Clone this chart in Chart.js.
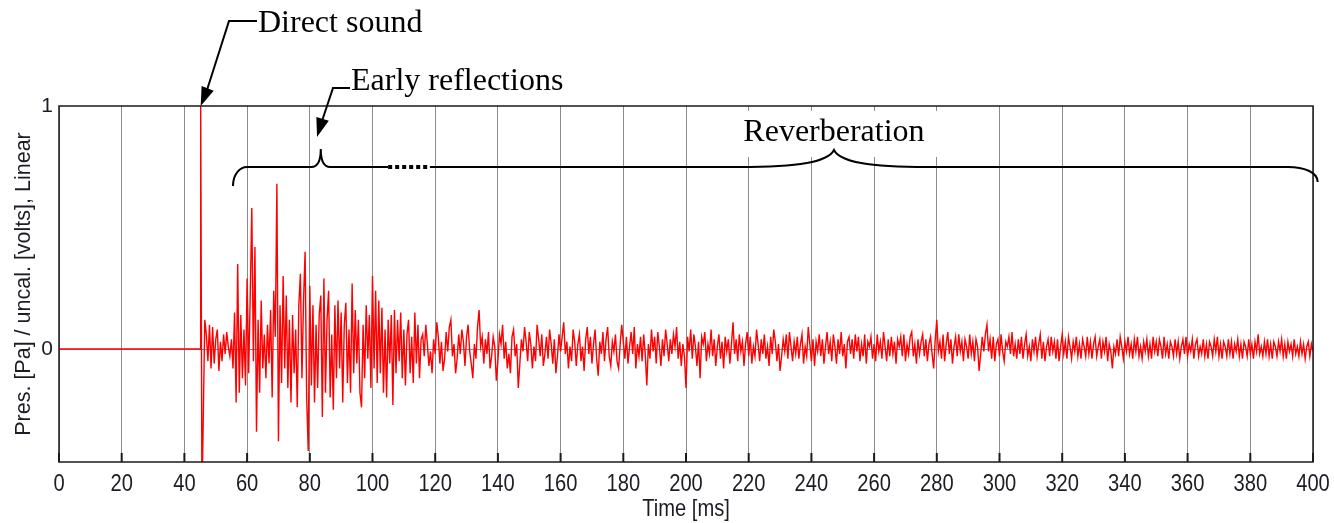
<!DOCTYPE html>
<html>
<head>
<meta charset="utf-8">
<script src="https://cdn.jsdelivr.net/npm/chart.js@4.4.1/dist/chart.umd.min.js"></script>
<style>
  html, body { margin: 0; padding: 0; background: #fff; }
  canvas { display: block; }
</style>
</head>
<body>
<canvas id="ir-chart" width="1334" height="523"></canvas>
<script>
// time axis (ms) and y ticks
const xTickStep = 20;
const xRange = [0, 400];
const yTickValues = [0, 1];
const yRange = [-0.465, 1];

// silence + direct sound
const headTimes = [0, 45.0, 45.2, 45.6];
const headValues = [0, 0, 1.0, -0.62];

// impulse response after the direct sound, one value every 0.5 ms from 46 ms
const tailStartMs = 46;
const sampleMs = 0.5;
const tailValues = [
  // 46 - 55.5
  -0.30, 0.12, 0.06, -0.05, 0.10, -0.08, 0.09, -0.06, 0.04, 0.08, -0.09, 0.03, -0.05, 0.06, -0.02, 0.07, 0.01, -0.03, 0.04, -0.08,
  // 56 - 65.5
  0.15, -0.22, 0.35, -0.18, 0.14, -0.12, 0.08, -0.15, 0.29, -0.10, 0.22, 0.58, -0.05, 0.42, -0.34, 0.12, -0.18, 0.20, -0.08, 0.06,
  // 66 - 75.5
  -0.12, 0.10, -0.06, 0.16, -0.20, 0.24, 0.05, 0.68, -0.38, 0.18, -0.14, 0.30, -0.08, 0.22, -0.16, 0.12, -0.22, 0.14, -0.10, 0.08,
  // 76 - 85.5
  -0.24, 0.18, 0.31, -0.12, 0.20, 0.40, -0.20, -0.42, 0.26, -0.15, 0.18, -0.22, 0.10, -0.16, 0.14, 0.22, -0.28, 0.29, -0.18, 0.12,
  // 86 - 95.5
  0.24, -0.20, 0.06, -0.25, 0.18, -0.12, 0.20, -0.08, 0.15, -0.22, 0.10, 0.19, -0.14, 0.08, -0.18, 0.27, -0.10, 0.16, -0.06, 0.12,
  // 96 - 105.5
  -0.18, -0.24, 0.10, -0.12, 0.18, -0.04, 0.14, -0.16, 0.30, -0.08, 0.24, -0.14, 0.20, -0.10, 0.17, -0.18, 0.08, -0.20, 0.12, -0.06,
  // 106 - 115.5
  0.14, -0.23, 0.16, -0.10, 0.12, -0.05, 0.15, -0.12, 0.08, -0.15, 0.06, 0.12, -0.10, 0.05, -0.14, 0.15, -0.06, 0.10, -0.12, 0.04,
  // 116 - 125.5
  0.06, -0.03, 0.10, 0.02, -0.07, -0.01, -0.10, 0.04, -0.02, 0.11, 0.05, -0.06, 0.03, -0.09, -0.04, 0.07, -0.01, 0.09, 0.12, -0.03,
  // 126 - 135.5
  0.02, -0.10, -0.04, 0.06, -0.02, 0.08, 0.03, -0.07, 0.05, 0.10, -0.01, -0.06, -0.12, 0.02, -0.04, 0.09, 0.16, 0.01, 0.05, -0.06,
  // 136 - 145.5
  0.04, -0.02, 0.07, -0.08, -0.03, 0.05, 0.01, -0.13, -0.05, 0.06, 0.02, 0.10, -0.04, 0.03, -0.08, -0.02, -0.10, 0.05, 0.08, -0.03,
  // 146 - 155.5
  0.02, -0.16, -0.06, 0.04, -0.01, 0.09, 0.03, -0.05, 0.07, 0.02, -0.08, 0.01, -0.05, 0.10, 0.04, -0.03, 0.06, -0.07, -0.02, 0.05,
  // 156 - 165.5
  -0.04, 0.08, 0.02, -0.06, 0.04, -0.10, -0.03, 0.06, -0.01, 0.05, 0.11, -0.02, 0.03, -0.08, 0.01, -0.05, 0.08, 0.03, -0.07, 0.02,
  // 166 - 175.5
  0.06, -0.05, 0.01, -0.09, 0.04, 0.09, -0.02, 0.05, -0.06, 0.02, 0.08, -0.04, -0.11, 0.03, -0.02, 0.07, -0.05, 0.04, 0.09, -0.03,
  // 176 - 185.5
  -0.07, 0.03, -0.01, 0.06, -0.05, -0.08, 0.02, 0.10, 0.03, -0.04, 0.05, -0.06, 0.01, 0.07, -0.02, 0.09, -0.08, 0.02, -0.03, 0.05,
  // 186 - 195.5
  -0.05, 0.06, -0.02, -0.15, 0.02, -0.04, 0.08, -0.01, 0.05, -0.06, 0.07, 0.01, -0.07, 0.04, -0.03, 0.08, 0.02, -0.05, 0.04, -0.02,
  // 196 - 205.5
  0.06, 0.01, 0.09, -0.04, 0.03, -0.07, 0.02, -0.03, -0.16, 0.05, -0.01, 0.08, -0.04, 0.06, 0.01, -0.07, 0.03, -0.12, 0.05, 0.02,
  // 206 - 215.5
  0.07, -0.05, 0.02, -0.02, 0.08, -0.03, 0.04, -0.07, 0.01, 0.06, -0.04, 0.03, -0.08, 0.05, -0.01, 0.04, -0.06, 0.02, 0.11, -0.02,
  // 216 - 225.5
  0.04, -0.05, 0.06, -0.01, 0.03, -0.07, 0.02, 0.07, -0.03, 0.05, -0.06, 0.01, -0.03, 0.08, 0.02, -0.05, 0.04, -0.02, 0.06, -0.04,
  // 226 - 235.5
  0.01, -0.07, 0.05, -0.02, 0.08, 0.03, -0.05, 0.02, -0.09, -0.03, 0.04, -0.01, 0.06, -0.04, 0.07, 0.01, -0.05, 0.03, -0.02, 0.05,
  // 236 - 245.5
  -0.04, 0.02, 0.06, -0.06, 0.01, -0.03, 0.09, 0.02, -0.05, 0.04, -0.07, 0.03, -0.01, 0.06, -0.03, 0.04, -0.06, 0.01, 0.07, -0.02,
  // 246 - 255.5
  0.03, -0.05, 0.06, 0.01, -0.06, 0.04, -0.02, 0.07, -0.03, 0.02, -0.08, 0.03, 0.05, -0.02, 0.04, -0.04, 0.06, -0.01, 0.05, -0.05,
  // 256 - 265.5
  0.02, -0.03, 0.06, -0.06, 0.03, 0.01, 0.05, -0.04, 0.02, -0.05, 0.06, -0.01, 0.03, -0.04, 0.07, 0.01, -0.05, 0.04, -0.03, 0.05,
  // 266 - 275.5
  -0.02, 0.03, -0.06, 0.04, 0.01, 0.05, -0.03, 0.06, -0.05, 0.02, -0.02, 0.05, 0.07, -0.03, 0.02, -0.06, 0.04, -0.02, 0.03, 0.06,
  // 276 - 285.5
  -0.03, 0.04, -0.05, 0.02, 0.05, -0.02, -0.08, 0.04, 0.12, -0.01, 0.03, -0.04, 0.06, -0.05, 0.02, 0.07, -0.02, 0.04, -0.06, 0.01,
  // 286 - 295.5
  0.05, -0.03, 0.06, -0.01, 0.03, -0.05, 0.04, 0.01, -0.04, 0.06, -0.02, 0.03, -0.05, 0.04, 0.01, -0.09, -0.02, 0.05, -0.01, 0.06,
  // 296 - 305.5
  0.10, -0.01, 0.04, -0.04, 0.05, -0.05, 0.02, 0.04, -0.03, 0.06, -0.01, -0.05, 0.03, 0.01, 0.05, -0.02, 0.07, -0.03, 0.02, -0.04,
  // 306 - 315.5
  0.04, -0.02, 0.05, -0.04, 0.02, 0.06, -0.03, 0.01, -0.05, 0.04, -0.01, 0.05, -0.03, 0.02, 0.06, -0.04, 0.03, -0.05, 0.01, 0.04,
  // 316 - 325.5
  -0.03, 0.05, -0.01, 0.03, -0.04, 0.04, -0.05, 0.01, 0.06, -0.02, 0.03, -0.04, 0.05, 0.01, -0.04, 0.03, -0.01, 0.05, -0.03, 0.02,
  // 326 - 335.5
  -0.04, 0.04, 0.01, -0.03, 0.05, -0.02, 0.03, -0.04, 0.02, 0.05, -0.03, 0.01, 0.04, -0.04, 0.03, -0.01, 0.05, -0.05, 0.02, -0.01,
  // 336 - 345.5
  -0.08, 0.01, -0.02, 0.04, -0.03, 0.05, 0.01, -0.04, 0.03, -0.01, 0.05, -0.02, 0.02, -0.04, 0.04, -0.01, 0.05, -0.03, 0.01, -0.04,
  // 346 - 355.5
  0.03, -0.01, 0.04, -0.03, 0.02, -0.04, 0.05, -0.01, 0.03, -0.03, 0.04, 0.01, -0.04, 0.05, -0.02, 0.02, -0.04, 0.03, 0.01, -0.03,
  // 356 - 365.5
  0.04, -0.02, 0.03, -0.04, 0.01, 0.04, -0.02, 0.05, -0.03, 0.02, -0.01, 0.04, -0.04, 0.02, 0.04, -0.03, 0.01, -0.02, 0.04, -0.03,
  // 366 - 375.5
  0.02, -0.04, 0.03, 0.01, -0.03, 0.04, -0.01, 0.05, -0.03, 0.02, -0.04, 0.03, 0.01, -0.03, 0.04, -0.02, 0.03, -0.04, 0.02, -0.01,
  // 376 - 385.5
  0.04, -0.03, 0.02, -0.04, 0.03, 0.01, -0.03, 0.04, -0.02, 0.02, -0.04, 0.03, -0.01, 0.06, -0.02, 0.01, -0.03, 0.03, -0.02, 0.04,
  // 386 - 395.5
  -0.03, 0.02, -0.04, 0.03, 0.01, -0.03, 0.03, -0.01, 0.04, -0.03, 0.02, -0.04, 0.03, -0.01, 0.02, -0.03, 0.04, -0.02, 0.01, -0.03,
  // 396 - 400
  0.03, -0.02, 0.02, -0.04, 0.01, 0.03, -0.03, 0.02, -0.01,
];

const points = headTimes.map((t, i) => ({ x: t, y: headValues[i] }));
tailValues.forEach((v, i) => points.push({ x: tailStartMs + i * sampleMs, y: v }));

const serif = '32px "Liberation Serif", "Times New Roman", serif';
const sans = '"Liberation Sans", Arial, sans-serif';
const textColor = '#1c1c24';

// text drawn squeezed horizontally, like the narrow axis font of the original
const narrowText = (ctx, text, x, y, squeeze) => {
  ctx.save();
  ctx.translate(x, y);
  ctx.scale(squeeze, 1);
  ctx.fillText(text, 0, 0);
  ctx.restore();
};

// frame, x labels, inner tick marks and the text annotations
const annotations = {
  id: 'annotations',
  afterDraw(chart) {
    const { ctx, chartArea: a, scales } = chart;
    const x = (ms) => scales.x.getPixelForValue(ms);
    ctx.save();

    // frame
    ctx.strokeStyle = '#1a1a1a';
    ctx.lineWidth = 1.5;
    ctx.strokeRect(a.left, a.top, a.right - a.left, a.bottom - a.top);

    // tick marks inside the bottom edge + labels
    ctx.lineWidth = 2;
    ctx.fillStyle = textColor;
    ctx.font = '24px ' + sans;
    ctx.textAlign = 'center';
    ctx.textBaseline = 'alphabetic';
    for (let v = xRange[0]; v <= xRange[1]; v += xTickStep) {
      ctx.beginPath();
      ctx.moveTo(x(v), a.bottom);
      ctx.lineTo(x(v), a.bottom - 9);
      ctx.stroke();
      narrowText(ctx, String(v), x(v), 491, 0.84);
    }
    narrowText(ctx, 'Time [ms]', (a.left + a.right) / 2, 516, 0.84);

    // white box behind "Reverberation"
    ctx.fillStyle = '#fff';
    ctx.fillRect(x(217.5), a.top + 5, x(283.5) - x(217.5), 46);

    ctx.fillStyle = '#000';
    ctx.strokeStyle = '#000';
    ctx.font = serif;
    ctx.textAlign = 'left';
    ctx.fillText('Direct sound', 258, 32);
    ctx.fillText('Early reflections', 351, 90);
    ctx.textAlign = 'center';
    ctx.fillText('Reverberation', x(247.2), 141);

    const arrow = (pts, tip) => {
      ctx.lineWidth = 2;
      ctx.beginPath();
      ctx.moveTo(pts[0][0], pts[0][1]);
      pts.slice(1).forEach((p) => ctx.lineTo(p[0], p[1]));
      ctx.stroke();
      const last = pts[pts.length - 1];
      const ang = Math.atan2(tip[1] - last[1], tip[0] - last[0]);
      const len = 19, half = 6.5;
      const bx = tip[0] - len * Math.cos(ang), by = tip[1] - len * Math.sin(ang);
      ctx.beginPath();
      ctx.moveTo(tip[0], tip[1]);
      ctx.lineTo(bx + half * Math.sin(ang), by - half * Math.cos(ang));
      ctx.lineTo(bx - half * Math.sin(ang), by + half * Math.cos(ang));
      ctx.closePath();
      ctx.fill();
    };
    arrow([[257, 21], [229, 21], [207, 90]], [x(45.2), a.top]);
    arrow([[350, 88], [333, 88], [321, 124]], [x(82.3), 137]);

    // braces
    const yb = 167;
    ctx.lineWidth = 2;
    ctx.beginPath();
    ctx.moveTo(x(55.5), 186);
    ctx.bezierCurveTo(x(55.5), 175, x(57.5), yb, x(60), yb);
    ctx.lineTo(x(80.5), yb);
    ctx.quadraticCurveTo(x(83.5), yb, x(83.5), 149);
    ctx.quadraticCurveTo(x(83.5), yb, x(86.5), yb);
    ctx.lineTo(x(105), yb);
    ctx.stroke();

    ctx.lineWidth = 4;
    ctx.setLineDash([4, 3]);
    ctx.beginPath();
    ctx.moveTo(x(105), yb);
    ctx.lineTo(x(118.3), yb);
    ctx.stroke();
    ctx.setLineDash([]);

    ctx.lineWidth = 2;
    ctx.beginPath();
    ctx.moveTo(x(118.3), yb);
    ctx.lineTo(x(217), yb);
    ctx.bezierCurveTo(x(236), yb, x(245.3), 162, x(247.2), 150);
    ctx.bezierCurveTo(x(249.1), 162, x(258.5), yb, x(277), yb);
    ctx.lineTo(x(392), yb);
    ctx.bezierCurveTo(x(397), yb, x(401.5), 172, x(401.5), 182);
    ctx.stroke();

    ctx.restore();
  },
};

new Chart(document.getElementById('ir-chart'), {
  type: 'line',
  data: {
    datasets: [
      {
        data: points,
        borderColor: '#ff0000',
        borderWidth: 1.4,
        pointRadius: 0,
        tension: 0,
      },
    ],
  },
  options: {
    responsive: false,
    animation: false,
    devicePixelRatio: 1,
    layout: { padding: { left: 0, top: 106, right: 21, bottom: 0 } },
    plugins: { legend: { display: false }, tooltip: { enabled: false } },
    scales: {
      x: {
        type: 'linear',
        min: xRange[0],
        max: xRange[1],
        afterFit: (s) => { s.height = 61; s.paddingLeft = 0; s.paddingRight = 0; },
        border: { display: false },
        grid: { color: '#8c8c8c', lineWidth: 1, drawTicks: false },
        ticks: { stepSize: xTickStep, display: false },
      },
      y: {
        min: yRange[0],
        max: yRange[1],
        afterFit: (s) => { s.width = 59; },
        afterBuildTicks: (s) => { s.ticks = yTickValues.map((v) => ({ value: v })); },
        border: { display: false },
        grid: {
          drawTicks: false,
          lineWidth: 1,
          color: (c) => (c.tick && c.tick.value === 0 ? '#8c8c8c' : 'rgba(0,0,0,0)'),
        },
        ticks: {
          padding: 6,
          color: textColor,
          font: { family: sans, size: 21 },
        },
        title: {
          display: true,
          text: 'Pres. [Pa] / uncal. [volts], Linear',
          color: textColor,
          padding: { top: 11, bottom: 0 },
          font: { family: sans, size: 21.5 },
        },
      },
    },
  },
  plugins: [annotations],
});
</script>
</body>
</html>
